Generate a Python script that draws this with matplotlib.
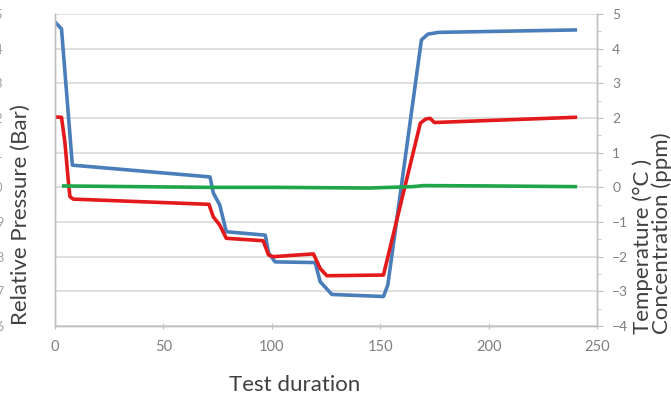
import matplotlib
matplotlib.use("Agg")
import matplotlib.pyplot as plt
from matplotlib.ticker import MultipleLocator

plt.rcParams['font.family'] = ['Lato', 'DejaVu Sans']

# pressure (left axis, bar)
t_pres = [0, 3, 8, 71.5, 73, 76, 79, 97, 98.5, 101.5, 120, 122.3, 127.7,
          151.5, 153.5, 169, 172, 177, 240]
pressure = [14.77, 14.57, 10.64, 10.30, 9.84, 9.49, 8.72, 8.62, 8.11, 7.85,
            7.83, 7.28, 6.91, 6.85, 7.18, 14.25, 14.42, 14.47, 14.54]

# temperature (right axis, degC)
t_temp = [0, 3, 4.6, 6.1, 6.9, 8.4, 71, 73, 76, 79, 96, 98.5, 100.7, 119.2,
          122.3, 125.4, 151.5, 168.5, 171, 173, 175, 240]
temperature = [2.03, 2.02, 1.28, 0.21, -0.27, -0.34, -0.49, -0.85, -1.09,
               -1.47, -1.54, -1.95, -2.00, -1.92, -2.34, -2.55, -2.53, 1.85,
               1.97, 1.99, 1.87, 2.02]

# concentration (right axis, ppm)
t_conc = [4, 20, 70, 100, 145, 155, 165, 170, 200, 240]
concentration = [0.04, 0.03, 0.0, 0.0, -0.02, 0.0, 0.02, 0.05, 0.04, 0.02]

x_ticks = [0, 50, 100, 150, 200, 250]
left_ticks = [6, 7, 8, 9, 10, 11, 12, 13, 14, 15]
right_ticks = [-4, -3, -2, -1, 0, 1, 2, 3, 4, 5]

W, H = 671, 400
fig = plt.figure(figsize=(W / 100, H / 100), dpi=100)
ax = fig.add_axes([55 / W, 1 - 326 / H, (597 - 55) / W, (326 - 14) / H])
ax2 = ax.twinx()

grey = '#7f7f7f'
spine_c = '#bfbfbf'
txt_c = '#404040'

ax.plot(t_pres, pressure, color='#4a7ebb', lw=2.6, solid_joinstyle='round')
ax2.plot(t_temp, temperature, color='#e3191c', lw=2.6, solid_joinstyle='round')
ax2.plot(t_conc, concentration, color='#1fa54a', lw=2.6, solid_joinstyle='round')

ax.set_xlim(0, 250)
ax.set_ylim(6, 15)
ax2.set_ylim(-4, 5)
ax.set_xticks(x_ticks)
ax.set_yticks(left_ticks)
ax2.set_yticks(right_ticks)
ax2.yaxis.set_minor_locator(MultipleLocator(0.5))

ax.grid(axis='y', color='#d9d9d9', lw=1.2)
ax.set_axisbelow(True)

for a in (ax, ax2):
    for s in a.spines.values():
        s.set_color(spine_c)
        s.set_linewidth(1.0)
    a.spines['top'].set_visible(False)

ax.tick_params(axis='x', colors=spine_c, labelcolor=grey, labelsize=10.5,
               length=4, direction='inout', pad=8)
# left labels sit right at the image edge, as in the reference
ax.tick_params(axis='y', length=0, labelcolor='#a0a0a0', labelsize=9, pad=37)
ax2.tick_params(axis='y', which='major', colors=spine_c, labelcolor=grey,
                labelsize=10, length=4, pad=7)
ax2.tick_params(axis='y', which='minor', colors=spine_c, length=3)

fig.text(21 / W, 1 - 215 / H, 'Relative Pressure (Bar)', rotation=90,
         ha='center', va='center', fontsize=16, color=txt_c)
fig.text(652 / W, 1 - 334 / H, 'Temperature (°C )\nConcentration (ppm)',
         rotation=90, ha='center', va='bottom', multialignment='left',
         linespacing=0.92, fontsize=16, color=txt_c)
fig.text(295 / W, 1 - 385 / H, 'Test duration', ha='center', va='center',
         fontsize=16, color=txt_c)

fig.savefig('out.png', dpi=100)
